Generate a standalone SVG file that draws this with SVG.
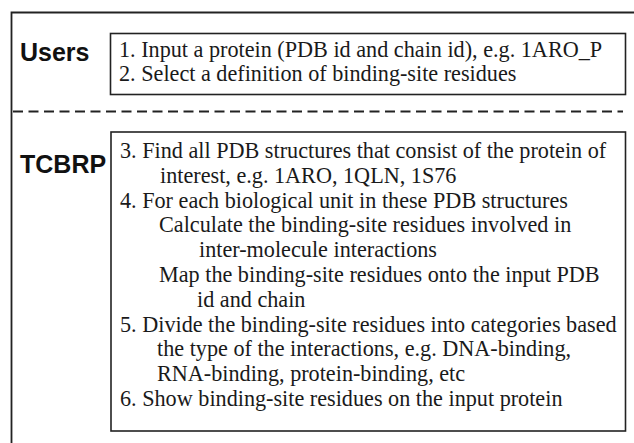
<svg xmlns="http://www.w3.org/2000/svg" width="634" height="443" viewBox="0 0 634 443">
<style>
.frame{fill:none;stroke:#222;stroke-width:1.8}
.box{fill:#fff;stroke:#222;stroke-width:1.6}
.lbl{font-family:'Liberation Sans',Arial,sans-serif;font-weight:bold;font-size:25px;fill:#111}
.t{font-family:'Liberation Serif','Times New Roman',serif;font-size:22.2px;fill:#1a1a1a}
</style>
<g id="frame">
<path class="frame" d="M11.5,443 V12.5 H634"/>
<line x1="13" y1="111.5" x2="623" y2="111.5" stroke="#222" stroke-width="1.8" stroke-dasharray="10 5.5"/>
</g>
<g id="users">
<text class="lbl" x="20" y="61">Users</text>
<rect class="box" x="110.5" y="33.5" width="515" height="61"/>
<text class="t" x="119" y="57">1. Input a protein (PDB id and chain id), e.g. 1ARO_P</text>
<text class="t" x="119" y="81">2. Select a definition of binding-site residues</text>
</g>
<g id="tcbrp">
<text class="lbl" x="20" y="173">TCBRP</text>
<rect class="box" x="111" y="132" width="514.5" height="299"/>
<text class="t" x="120" y="158">3. Find all PDB structures that consist of the protein of</text>
<text class="t" x="160" y="182.8">interest, e.g. 1ARO, 1QLN, 1S76</text>
<text class="t" x="120" y="207.6">4. For each biological unit in these PDB structures</text>
<text class="t" x="159" y="232.4">Calculate the binding-site residues involved in</text>
<text class="t" x="199" y="257.2">inter-molecule interactions</text>
<text class="t" x="159" y="282">Map the binding-site residues onto the input PDB</text>
<text class="t" x="197" y="306.8">id and chain</text>
<text class="t" x="120" y="331.6">5. Divide the binding-site residues into categories based</text>
<text class="t" x="157" y="356.4">the type of the interactions, e.g. DNA-binding,</text>
<text class="t" x="157" y="381.2">RNA-binding, protein-binding, etc</text>
<text class="t" x="120" y="406">6. Show binding-site residues on the input protein</text>
</g>
</svg>
